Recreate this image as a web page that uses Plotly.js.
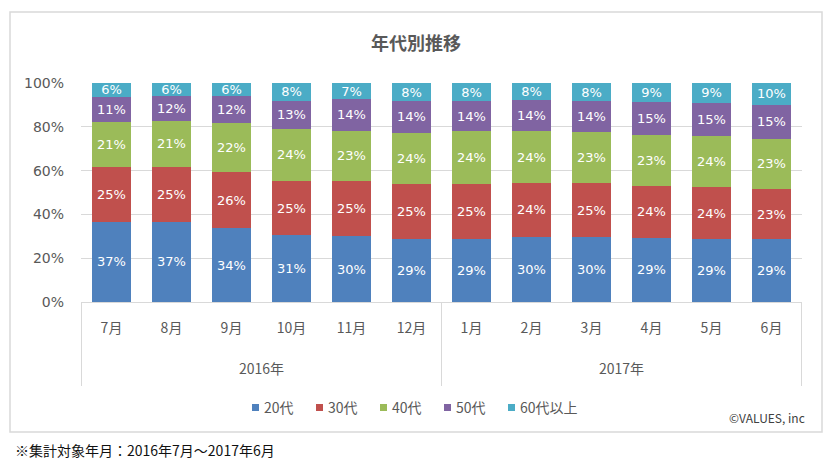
<!DOCTYPE html>
<html>
<head>
<meta charset="utf-8">
<script src="https://cdn.plot.ly/plotly-3.0.1.min.js"></script>
<style>
  html, body { margin: 0; padding: 0; background: #ffffff; }
  #chart { width: 832px; height: 464px; }
</style>
</head>
<body>
<div id="chart"></div>
<script>
// ---- data ----
const months = ["7月", "8月", "9月", "10月", "11月", "12月", "1月", "2月", "3月", "4月", "5月", "6月"];
const years = ["2016年", "2017年"];
const seriesNames = ["20代", "30代", "40代", "50代", "60代以上"];
const age20 = [36.6, 36.7, 33.6, 30.6, 30.1, 28.7, 28.6, 29.9, 29.7, 29.3, 28.6, 28.6];
const age30 = [25.2, 25.1, 25.9, 24.6, 25.3, 25.0, 25.3, 24.4, 24.6, 23.6, 23.8, 23.0];
const age40 = [20.6, 20.7, 22.2, 23.9, 22.9, 23.6, 24.0, 23.6, 23.4, 23.4, 23.6, 23.0];
const age50 = [11.4, 11.6, 12.2, 12.8, 14.3, 14.4, 13.8, 14.2, 14.0, 14.8, 15.0, 15.4];
const age60 = [6.2, 5.9, 6.1, 8.1, 7.4, 8.3, 8.3, 7.9, 8.3, 8.9, 9.0, 10.0];
const yTicks = [0, 20, 40, 60, 80, 100];
const footnote = "※集計対象年月：2016年7月～2017年6月";
const credit = "©VALUES, inc";
const chartTitle = "年代別推移";

// ---- styling ----
const colors = ["#4F81BD", "#C0504D", "#9BBB59", "#8064A2", "#4BACC6"];
const allSeries = [age20, age30, age40, age50, age60];
const grey = "#595959";
const lineGrey = "#D9D9D9";
const cjk = "'Noto Sans CJK JP', 'Noto Sans', sans-serif";
const num = "'DejaVu Sans', Verdana, sans-serif";

const traces = allSeries.map((vals, i) => ({
  type: "bar",
  name: seriesNames[i],
  x: months,
  y: vals,
  marker: { color: colors[i], line: { width: 0 } },
  texttemplate: "%{y:.0f}%",
  textposition: "inside",
  insidetextanchor: "middle",
  textangle: 0,
  insidetextfont: { family: num, size: 13, color: "#FFFFFF" },
  constraintext: "none",
  showlegend: false,
  hoverinfo: "skip"
}));

// pixel -> paper helpers (plot area: left 81, width 721, top 83, height 219)
const L = 81, W = 721, T = 83, H = 219;
const px = v => (v - L) / W;
const py = v => (T + H - v) / H;

const shapes = [
  { type: "rect", xref: "paper", yref: "paper", x0: px(10), x1: px(822), y0: py(432), y1: py(12),
    line: { color: lineGrey, width: 1.5 }, fillcolor: "rgba(0,0,0,0)", layer: "below" },
  { type: "line", xref: "x", yref: "paper", x0: -0.5, x1: -0.5, y0: 0, y1: py(386), line: { color: lineGrey, width: 1 } },
  { type: "line", xref: "x", yref: "paper", x0: 5.5, x1: 5.5, y0: 0, y1: py(386), line: { color: lineGrey, width: 1 } },
  { type: "line", xref: "x", yref: "paper", x0: 11.5, x1: 11.5, y0: 0, y1: py(386), line: { color: lineGrey, width: 1 } }
];

const annotations = [
  { text: years[0], xref: "x", yref: "paper", x: 2.5, y: py(368), showarrow: false,
    xanchor: "center", yanchor: "middle", font: { family: cjk, size: 14, color: grey } },
  { text: years[1], xref: "x", yref: "paper", x: 8.5, y: py(368), showarrow: false,
    xanchor: "center", yanchor: "middle", font: { family: cjk, size: 14, color: grey } },
  { text: credit, xref: "paper", yref: "paper", x: px(807), y: py(417), showarrow: false,
    xanchor: "right", yanchor: "middle", font: { family: cjk, size: 12, color: "#404040" } },
  { text: footnote, xref: "paper", yref: "paper", x: px(13), y: py(450), showarrow: false,
    xanchor: "left", yanchor: "middle", font: { family: cjk, size: 14, color: "#111111" } }
];

// legend: small square swatch followed by the series name
const legendStart = 252, legendStep = 64, legendY = 407, sw = 7;
seriesNames.forEach((name, i) => {
  const x0 = legendStart + i * legendStep;
  shapes.push({ type: "rect", xref: "paper", yref: "paper",
    x0: px(x0), x1: px(x0 + sw), y0: py(legendY + sw / 2 + 0.5), y1: py(legendY - sw / 2 + 0.5),
    line: { width: 0 }, fillcolor: colors[i] });
  annotations.push({ text: name, xref: "paper", yref: "paper", x: px(x0 + sw + 3), y: py(legendY),
    showarrow: false, xanchor: "left", yanchor: "middle",
    font: { family: cjk, size: 14, color: grey } });
});

const layout = {
  width: 832,
  height: 464,
  barmode: "stack",
  bargap: 0.35,
  margin: { l: L, r: 832 - L - W, t: T, b: 464 - T - H, pad: 0 },
  paper_bgcolor: "#FFFFFF",
  plot_bgcolor: "#FFFFFF",
  showlegend: false,
  title: {
    text: "<b>" + chartTitle + "</b>",
    font: { family: cjk, size: 18, color: grey },
    x: 0.5, xref: "container", xanchor: "center",
    y: 1 - 44 / 464, yref: "container", yanchor: "middle"
  },
  xaxis: {
    type: "category",
    categoryorder: "array",
    categoryarray: months,
    showgrid: false,
    showline: true,
    linecolor: lineGrey,
    linewidth: 1,
    ticks: "",
    ticklabelstandoff: 13,
    tickfont: { family: cjk, size: 14, color: grey },
    fixedrange: true
  },
  yaxis: {
    range: [0, 100],
    tickvals: yTicks,
    ticktext: yTicks.map(v => v + "%"),
    showgrid: true,
    gridcolor: lineGrey,
    gridwidth: 1,
    zeroline: false,
    showline: false,
    ticks: "",
    ticklabelstandoff: 16,
    tickfont: { family: num, size: 14, color: grey },
    fixedrange: true
  },
  shapes: shapes,
  annotations: annotations
};

Plotly.newPlot("chart", traces, layout, { displayModeBar: false, staticPlot: true });
</script>
</body>
</html>
